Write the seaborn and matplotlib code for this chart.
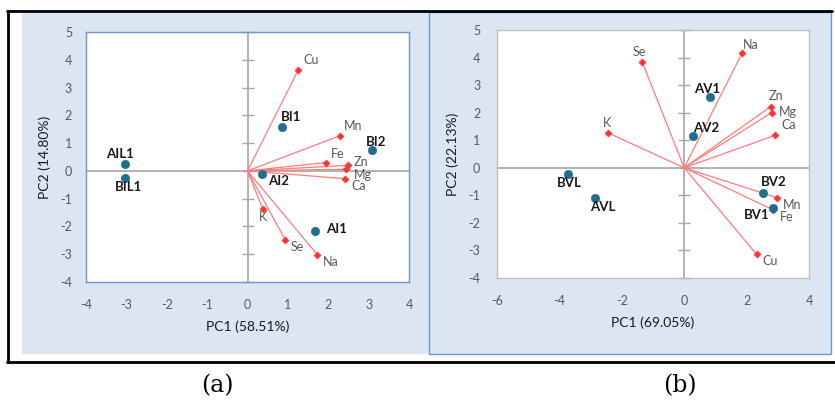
import numpy as np
import pandas as pd
import matplotlib
matplotlib.use("Agg")
import matplotlib.pyplot as plt
from matplotlib.patches import Rectangle
from matplotlib.lines import Line2D
import seaborn as sns

sns.set_theme(style="white")
plt.rcParams['font.family'] = ['Lato', 'DejaVu Sans']

# ---------------- data ----------------
# Panel (a)
a_samples = ["AIL1", "BIL1", "BI1", "BI2", "AI2", "AI1"]
a_sx = [-3.03, -3.03, 0.86, 3.09, 0.36, 1.68]
a_sy = [0.25, -0.24, 1.58, 0.74, -0.12, -2.17]
a_vars = ["Cu", "Mn", "Fe", "Zn", "Mg", "Ca", "K", "Se", "Na"]
a_vx = [1.26, 2.28, 1.94, 2.48, 2.45, 2.42, 0.38, 0.94, 1.73]
a_vy = [3.64, 1.26, 0.30, 0.20, 0.06, -0.28, -1.37, -2.49, -3.02]
a_xlabel = "PC1 (58.51%)"
a_ylabel = "PC2 (14.80%)"
a_xticks = [-4, -3, -2, -1, 0, 1, 2, 3, 4]
a_yticks = [-4, -3, -2, -1, 0, 1, 2, 3, 4, 5]

# Panel (b)
b_samples = ["AV1", "AV2", "BVL", "AVL", "BV2", "BV1"]
b_sx = [0.84, 0.29, -3.73, -2.86, 2.52, 2.86]
b_sy = [2.57, 1.14, -0.22, -1.10, -0.91, -1.47]
b_vars = ["Se", "Na", "Zn", "Mg", "Ca", "K", "Mn", "Fe", "Cu"]
b_vx = [-1.35, 1.86, 2.77, 2.80, 2.92, -2.43, 2.96, 2.86, 2.32]
b_vy = [3.85, 4.17, 2.22, 2.00, 1.18, 1.26, -1.08, -1.53, -3.14]
b_xlabel = "PC1 (69.05%)"
b_ylabel = "PC2 (22.13%)"
b_xticks = [-6, -4, -2, 0, 2, 4]
b_yticks = [-4, -3, -2, -1, 0, 1, 2, 3, 4, 5]

captions = ["(a)", "(b)"]

# ---------------- label offsets (pixels: dx right, dy up) ----------------
a_sample_off = {"AIL1": (-5, 10), "BIL1": (3, -9), "BI1": (9, 10), "BI2": (4, 8),
                "AI2": (16, -7), "AI1": (21, 2)}
a_var_off = {"Cu": (13, 10), "Mn": (14, 10), "Fe": (12, 9), "Zn": (13, 3), "Mg": (16, -6),
             "Ca": (13, -7), "K": (0, -8), "Se": (12, -7), "Na": (13, -7)}
b_sample_off = {"AV1": (-3, 8), "AV2": (13, 8), "BVL": (1, -9), "AVL": (8, -9),
                "BV2": (11, 11), "BV1": (-17, -7)}
b_var_off = {"Se": (-3, 10), "Na": (9, 8), "Zn": (5, 11), "Mg": (16, 1), "Ca": (13, 10),
             "K": (-1, 10), "Mn": (16, -7), "Fe": (13, -7), "Cu": (13, -7)}

W, H = 835, 400
fig = plt.figure(figsize=(W / 100, H / 100), dpi=100)

PANEL_BG = "#dce6f2"
BLUE_EDGE = "#6f95cc"
PT_COLOR = "#1f6e8e"
VEC_LINE = "#ff7c7c"
VEC_PT = "#ff3535"
GRID_GRAY = "#a6a6a6"
TXT_GRAY = "#595959"


def fig_rect(x0, y0, x1, y1, **kw):
    r = Rectangle((x0 / W, 1 - y1 / H), (x1 - x0) / W, (y1 - y0) / H,
                  transform=fig.transFigure, **kw)
    fig.patches.append(r)


def fig_line(xs, ys, **kw):
    fig.add_artist(Line2D([x / W for x in xs], [1 - y / H for y in ys],
                          transform=fig.transFigure, **kw))


# panel backgrounds
fig_rect(22, 13, 429, 354, facecolor=PANEL_BG, edgecolor="none", zorder=-2)
fig_rect(429, 12, 831, 354, facecolor=PANEL_BG, edgecolor=BLUE_EDGE, lw=1.0, zorder=-2)
# black frame lines
fig_line([7, 832], [11, 11], color="black", lw=2.0, zorder=-1)
fig_line([8, 8], [11, 361.5], color="black", lw=2.0, zorder=-1)
fig_line([7, 835], [361.5, 361.5], color="black", lw=2.0, zorder=-1)


def make_axes(x0, y0, x1, y1):
    return fig.add_axes([x0 / W, 1 - y1 / H, (x1 - x0) / W, (y1 - y0) / H])


def draw_panel(ax, samples, sx, sy, vars_, vx, vy, soff, voff, xticks, yticks,
               xlabel, ylabel, edge, ylab_x, ylab_pad):
    ax.set_facecolor("white")
    ax.set_xlim(xticks[0], xticks[-1])
    ax.set_ylim(yticks[0], yticks[-1])
    ax.axhline(0, color=GRID_GRAY, lw=1.2, zorder=1)
    ax.axvline(0, color=GRID_GRAY, lw=1.2, zorder=1)
    # cross tick marks on the vertical zero axis
    ax.plot(np.zeros(len(yticks)), yticks, ls="none", marker="_", ms=9,
            mew=1.0, color=GRID_GRAY, zorder=1, clip_on=False)
    for x, y in zip(vx, vy):
        ax.plot([0, x], [0, y], color=VEC_LINE, lw=0.9, zorder=2)
    dfv = pd.DataFrame({"x": vx, "y": vy, "name": vars_})
    sns.scatterplot(data=dfv, x="x", y="y", ax=ax, marker="D", s=14,
                    color=VEC_PT, edgecolor=VEC_PT, linewidth=0.3, zorder=3)
    dfs = pd.DataFrame({"x": sx, "y": sy, "name": samples})
    sns.scatterplot(data=dfs, x="x", y="y", ax=ax, marker="o", s=38,
                    color=PT_COLOR, edgecolor=PT_COLOR, linewidth=0.3, zorder=4)
    for n, x, y in zip(vars_, vx, vy):
        dx, dy = voff[n]
        ax.annotate(n, (x, y), xytext=(dx * 0.72, dy * 0.72), textcoords="offset points",
                    ha="center", va="center", fontsize=9, color=TXT_GRAY, zorder=5)
    for n, x, y in zip(samples, sx, sy):
        dx, dy = soff[n]
        ax.annotate(n, (x, y), xytext=(dx * 0.72, dy * 0.72), textcoords="offset points",
                    ha="center", va="center", fontsize=9.5, fontweight="bold",
                    color="#1a1a1a", zorder=5)
    ax.set_xticks(xticks)
    ax.set_yticks(yticks)
    ax.set_xticklabels([str(t) for t in xticks])
    ax.set_yticklabels([str(t) for t in yticks])
    ax.tick_params(axis="both", length=0, labelsize=9, labelcolor=TXT_GRAY)
    ax.tick_params(axis="x", pad=12)
    ax.tick_params(axis="y", pad=ylab_pad)
    for s in ax.spines.values():
        s.set_visible(True)
        s.set_color(edge)
        s.set_linewidth(1.0)
    ax.set_xlabel(xlabel, fontsize=10, color="#1a1a1a", labelpad=7)
    ax.set_ylabel(ylabel, fontsize=10, color="#1a1a1a")
    ax.yaxis.set_label_coords(ylab_x, 0.5)


ax1 = make_axes(86, 32, 409, 282)
draw_panel(ax1, a_samples, a_sx, a_sy, a_vars, a_vx, a_vy, a_sample_off, a_var_off,
           a_xticks, a_yticks, a_xlabel, a_ylabel, BLUE_EDGE, (51 - 86) / 323, 10)

ax2 = make_axes(497, 30, 809, 278)
draw_panel(ax2, b_samples, b_sx, b_sy, b_vars, b_vx, b_vy, b_sample_off, b_var_off,
           b_xticks, b_yticks, b_xlabel, b_ylabel, "#bfbfbf", (459 - 497) / 312, 12)

fig.text(217 / W, 1 - 386 / H, captions[0], ha="center", va="center",
         fontsize=17, family=["DejaVu Serif"], color="black")
fig.text(680 / W, 1 - 386 / H, captions[1], ha="center", va="center",
         fontsize=17, family=["DejaVu Serif"], color="black")

fig.savefig("out.png", dpi=100)
